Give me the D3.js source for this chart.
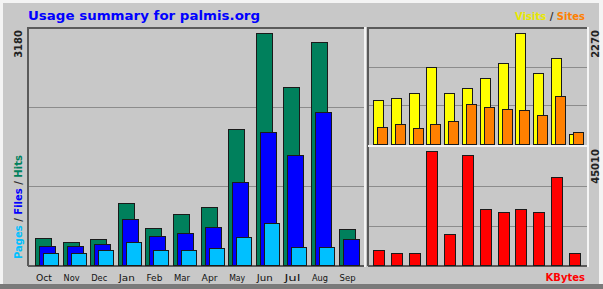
<!DOCTYPE html>
<html>
<head>
<meta charset="utf-8">
<script src="https://cdn.jsdelivr.net/npm/d3@7"></script>
<style>
  html, body { margin: 0; padding: 0; background: #c8c8c8; }
  svg { display: block; }
  text { font-family: "DejaVu Sans", sans-serif; }
</style>
</head>
<body>
<svg id="chart" width="603" height="289"></svg>
<script>
// monthly usage summary
var months = ["Oct", "Nov", "Dec", "Jan", "Feb", "Mar", "Apr", "May", "Jun", "Jul", "Aug", "Sep"];
var hits   = [362, 309, 349, 832, 497, 684, 778, 1825, 3113, 2389, 2993, 483];
var files  = [255, 255, 282, 617, 389, 430, 510, 1114, 1785, 1476, 2053, 349];
var pages  = [161, 161, 201, 309, 201, 201, 228, 376, 564, 242, 242, 0];
var visits = [869, 908, 1007, 1500, 1007, 1105, 1283, 1579, 2171, 1382, 1678, 197];
var sites  = [336, 395, 316, 395, 454, 790, 730, 691, 671, 572, 948, 237];
var kbytes = [5722, 4577, 4577, 43484, 11825, 41958, 21360, 20216, 21360, 20216, 33567, 4577];

var maxLabels = { hits: "3180", visits: "2270", kbytes: "45010" };
var maxHits = 3180, maxVisits = 2270, maxKbytes = 45010;

var svg = d3.select('#chart');
var W = 603, H = 289;

var col = {
  bg: "#c8c8c8", grid: "#8c8c8c", frame: "#5a5a5a",
  hits: "#00805c", files: "#0000ff", pages: "#00c0ff",
  visits: "#ffff00", sites: "#ff8000", kbytes: "#ff0000"
};

// outer bevel
svg.append('rect').attr('width', W).attr('height', H).attr('fill', col.bg);
svg.append('rect').attr('x', 0).attr('y', 0).attr('width', W).attr('height', 3).attr('fill', '#f4f4f4');
svg.append('rect').attr('x', 0).attr('y', 0).attr('width', 3).attr('height', H).attr('fill', '#f4f4f4');
svg.append('rect').attr('x', W - 4).attr('y', 0).attr('width', 4).attr('height', H).attr('fill', '#f4f4f4');
svg.append('rect').attr('x', 0).attr('y', H - 5).attr('width', W).attr('height', 5).attr('fill', '#7a7a7a');

// scales
var xL = d3.scaleBand().domain(months).range([35, 35 + 12 * 27.6]);
var yL = d3.scaleLinear().domain([0, maxHits]).range([265, 28]);
var xR = d3.scaleBand().domain(months).range([373, 373 + 12 * 17.8]);
var yV = d3.scaleLinear().domain([0, maxVisits]).range([144, 28]);
var yK = d3.scaleLinear().domain([0, maxKbytes]).range([265, 147]);

// gridlines
function grid(x1, x2, scale, n) {
  var d = scale.domain()[1];
  var vals = d3.range(1, n).map(function(i) { return d * i / n; });
  svg.append('g').selectAll('line').data(vals).join('line')
    .attr('x1', x1).attr('x2', x2)
    .attr('y1', function(v) { return Math.round(scale(v)) + 0.5; })
    .attr('y2', function(v) { return Math.round(scale(v)) + 0.5; })
    .attr('stroke', col.grid).attr('stroke-width', 1.2);
}
grid(28, 365, yL, 3);
grid(368, 587, yV, 3);
grid(368, 587, yK, 3);

// frames: dark top/left, light right
svg.append('rect').attr('x', 28).attr('y', 27).attr('width', 337).attr('height', 2).attr('fill', col.frame);
svg.append('rect').attr('x', 368).attr('y', 27).attr('width', 219).attr('height', 2).attr('fill', col.frame);
svg.append('rect').attr('x', 27).attr('y', 27).attr('width', 2).attr('height', 239).attr('fill', col.frame);
svg.append('rect').attr('x', 367).attr('y', 27).attr('width', 2).attr('height', 239).attr('fill', col.frame);
svg.append('rect').attr('x', 28).attr('y', 265).attr('width', 337).attr('height', 2).attr('fill', col.frame);
svg.append('rect').attr('x', 368).attr('y', 265).attr('width', 219).attr('height', 2).attr('fill', col.frame);
svg.append('rect').attr('x', 364).attr('y', 27).attr('width', 2).attr('height', 240).attr('fill', '#f4f4f4');
svg.append('rect').attr('x', 587).attr('y', 27).attr('width', 2).attr('height', 240).attr('fill', '#f4f4f4');
svg.append('rect').attr('x', 368).attr('y', 145).attr('width', 221).attr('height', 2).attr('fill', '#f4f4f4');

// bars
function bars(data, x, y, off, w, fill) {
  svg.append('g').selectAll('rect').data(data).join('rect')
    .attr('x', function(d, i) { return Math.round(x(months[i])) + off + 0.5; })
    .attr('y', function(d) { return Math.round(y(d)) + 0.5; })
    .attr('width', w)
    .attr('height', function(d) { return Math.max(0, y.range()[0] - Math.round(y(d))); })
    .attr('fill', fill)
    .attr('stroke', '#1a1a1a').attr('stroke-width', 1)
    .attr('display', function(d) { return d > 0 ? null : 'none'; });
}
bars(hits, xL, yL, 0, 16, col.hits);
bars(files, xL, yL, 4, 16, col.files);
bars(pages, xL, yL, 8, 15, col.pages);
bars(visits, xR, yV, 0, 10, col.visits);
bars(sites, xR, yV, 4, 10, col.sites);
bars(kbytes, xR, yK, 0, 11, col.kbytes);

// month labels
svg.append('g').selectAll('text').data(months).join('text')
  .attr('x', function(m) { return xL(m) + 1; })
  .attr('y', 281)
  .attr('font-size', 9)
  .attr('textLength', 16).attr('lengthAdjust', 'spacingAndGlyphs')
  .attr('fill', '#111')
  .text(function(m) { return m; });

// title
svg.append('text').attr('x', 28).attr('y', 20)
  .attr('font-family', 'DejaVu Sans Mono, monospace').attr('font-weight', 'bold')
  .attr('font-size', 12).attr('fill', '#0000ff')
  .attr('textLength', 232).attr('lengthAdjust', 'spacingAndGlyphs')
  .text('Usage summary for palmis.org');

// visits / sites legend
var vs = svg.append('text').attr('x', 585).attr('y', 20).attr('text-anchor', 'end')
  .attr('font-size', 10).attr('font-weight', 'bold');
vs.append('tspan').attr('fill', '#e8e800').text('Visits');
vs.append('tspan').attr('fill', '#333').text(' / ');
vs.append('tspan').attr('fill', '#ff8000').text('Sites');

// kbytes legend
svg.append('text').attr('x', 585).attr('y', 281).attr('text-anchor', 'end')
  .attr('font-size', 10).attr('font-weight', 'bold').attr('fill', col.kbytes)
  .text('KBytes');

// rotated left legend
var lg = svg.append('text').attr('transform', 'translate(22,259) rotate(-90)')
  .attr('font-size', 10).attr('font-weight', 'bold');
lg.append('tspan').attr('fill', col.pages).text('Pages');
lg.append('tspan').attr('fill', '#333').text(' / ');
lg.append('tspan').attr('fill', col.files).text('Files');
lg.append('tspan').attr('fill', '#333').text(' / ');
lg.append('tspan').attr('fill', col.hits).text('Hits');

// max value labels
function upLabel(x, y, t) {
  svg.append('text').attr('transform', 'translate(' + x + ',' + y + ') rotate(-90)')
    .attr('text-anchor', 'end').attr('font-size', 10).attr('font-weight', 'bold')
    .attr('fill', '#222').text(t);
}
upLabel(22, 30, maxLabels.hits);
upLabel(599, 30, maxLabels.visits);
upLabel(599, 149, maxLabels.kbytes);
</script>
</body>
</html>
